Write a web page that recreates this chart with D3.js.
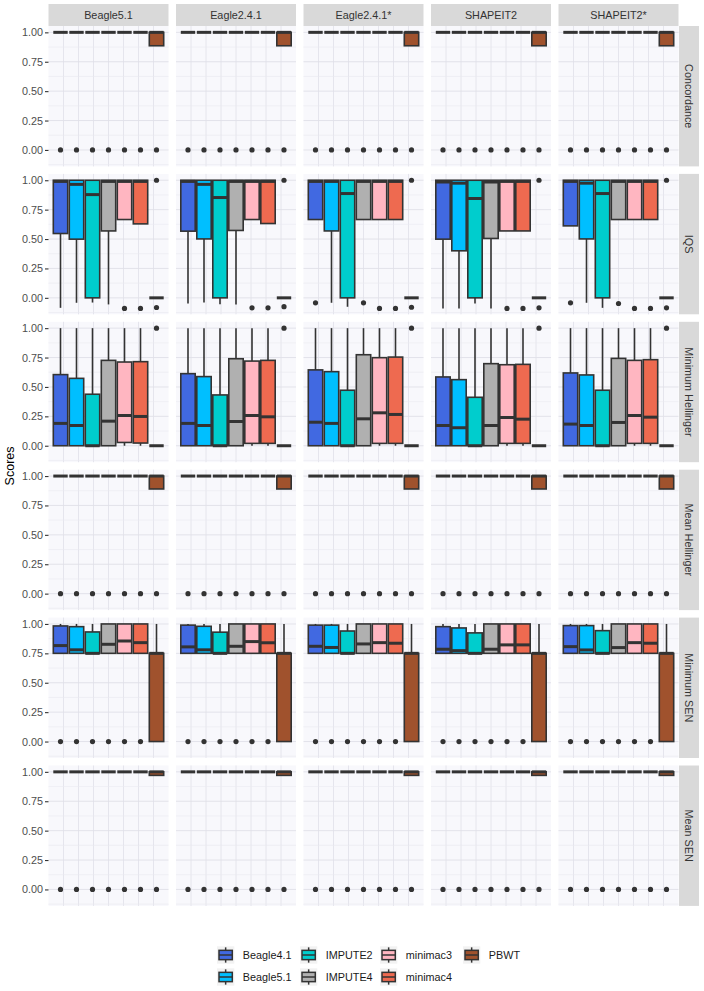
<!DOCTYPE html>
<html>
<head>
<meta charset="utf-8">
<script src="https://cdn.jsdelivr.net/npm/d3@7"></script>
<style>
  body { margin: 0; background: #fff; }
  svg { display: block; font-family: "Liberation Sans", Arial, sans-serif; }
</style>
</head>
<body>
<div id="chart"></div>
<script>
// Facets
const phasing = ['Beagle5.1', 'Eagle2.4.1', 'Eagle2.4.1*', 'SHAPEIT2', 'SHAPEIT2*'];
const metrics = ['Concordance', 'IQS', 'Minimum Hellinger', 'Mean Hellinger', 'Minimum SEN', 'Mean SEN'];
const methods = ['Beagle4.1', 'Beagle5.1', 'IMPUTE2', 'IMPUTE4', 'minimac3', 'minimac4', 'PBWT'];
const methodColors = ['#4169E1', '#00BFFF', '#00CDCD', '#B0B0B0', '#FFB6C1', '#EE6A50', '#A0522D'];
const yTicks = [0, 0.25, 0.5, 0.75, 1];
const yMinorTicks = [-0.125, 0.125, 0.375, 0.625, 0.875];

// Box stats per phasing, per method: [lower whisker, q1, median, q3, upper whisker]
const concordanceBoxes = [
  [[1,1,1,1,1],[1,1,1,1,1],[1,1,1,1,1],[1,1,1,1,1],[1,1,1,1,1],[1,1,1,1,1],[0.886,0.886,1,1,1]],
  [[1,1,1,1,1],[1,1,1,1,1],[1,1,1,1,1],[1,1,1,1,1],[1,1,1,1,1],[1,1,1,1,1],[0.886,0.886,1,1,1]],
  [[1,1,1,1,1],[1,1,1,1,1],[1,1,1,1,1],[1,1,1,1,1],[1,1,1,1,1],[1,1,1,1,1],[0.886,0.886,1,1,1]],
  [[1,1,1,1,1],[1,1,1,1,1],[1,1,1,1,1],[1,1,1,1,1],[1,1,1,1,1],[1,1,1,1,1],[0.886,0.886,1,1,1]],
  [[1,1,1,1,1],[1,1,1,1,1],[1,1,1,1,1],[1,1,1,1,1],[1,1,1,1,1],[1,1,1,1,1],[0.886,0.886,1,1,1]]
];
const iqsBoxes = [
  [[-0.085,0.547,0.99,1,1],[-0.042,0.499,0.965,1,1],[-0.04,0,0.878,1,1],[-0.056,0.569,0.99,1,1],[0.666,0.666,0.99,1,1],[0.629,0.629,0.99,1,1],[0,0,0,0,0]],
  [[-0.048,0.567,0.99,1,1],[-0.04,0.501,0.965,1,1],[-0.054,0,0.853,1,1],[-0.057,0.573,0.99,1,1],[0.666,0.666,0.99,1,1],[0.632,0.632,0.99,1,1],[0,0,0,0,0]],
  [[0.666,0.666,0.99,1,1],[-0.042,0.569,0.99,1,1],[-0.076,0,0.887,1,1],[0.666,0.666,0.99,1,1],[0.666,0.666,0.99,1,1],[0.666,0.666,0.99,1,1],[0,0,0,0,0]],
  [[-0.09,0.499,0.985,1,1],[-0.09,0.40,0.975,1,1],[-0.048,0,0.845,1,1],[-0.09,0.505,0.985,1,1],[0.569,0.569,0.99,1,1],[0.569,0.569,0.99,1,1],[0,0,0,0,0]],
  [[0.612,0.612,0.99,1,1],[-0.042,0.501,0.975,1,1],[-0.085,0,0.887,1,1],[0.666,0.666,0.99,1,1],[0.666,0.666,0.99,1,1],[0.666,0.666,0.99,1,1],[0,0,0,0,0]]
];
const minHellingerBoxes = [
  [[0,0,0.19,0.605,1],[0,0,0.172,0.573,1],[0,0,0,0.438,1],[0,0,0.209,0.726,1],[0,0.028,0.257,0.712,1],[0,0.023,0.249,0.715,1],[0,0,0,0,0]],
  [[0,0,0.19,0.613,1],[0,0,0.172,0.588,1],[0,0,0,0.432,1],[0,0,0.206,0.74,1],[0,0.02,0.257,0.72,1],[0,0.02,0.246,0.726,1],[0,0,0,0,0]],
  [[0,0,0.2,0.645,1],[0,0,0.19,0.63,1],[0,0,0,0.472,1],[0,0,0.229,0.774,1],[0,0.02,0.28,0.749,1],[0,0.02,0.266,0.754,1],[0,0,0,0,0]],
  [[0,0,0.172,0.585,1],[0,0,0.153,0.562,1],[0,0,0,0.412,1],[0,0,0.172,0.698,1],[0,0.02,0.24,0.689,1],[0,0.02,0.226,0.692,1],[0,0,0,0,0]],
  [[0,0,0.184,0.619,1],[0,0,0.172,0.602,1],[0,0,0,0.472,1],[0,0,0.198,0.743,1],[0,0.02,0.257,0.726,1],[0,0.02,0.243,0.732,1],[0,0,0,0,0]]
];
const meanHellingerBoxes = [
  [[1,1,1,1,1],[1,1,1,1,1],[1,1,1,1,1],[1,1,1,1,1],[1,1,1,1,1],[1,1,1,1,1],[0.89,0.89,1,1,1]],
  [[1,1,1,1,1],[1,1,1,1,1],[1,1,1,1,1],[1,1,1,1,1],[1,1,1,1,1],[1,1,1,1,1],[0.89,0.89,1,1,1]],
  [[1,1,1,1,1],[1,1,1,1,1],[1,1,1,1,1],[1,1,1,1,1],[1,1,1,1,1],[1,1,1,1,1],[0.89,0.89,1,1,1]],
  [[1,1,1,1,1],[1,1,1,1,1],[1,1,1,1,1],[1,1,1,1,1],[1,1,1,1,1],[1,1,1,1,1],[0.89,0.89,1,1,1]],
  [[1,1,1,1,1],[1,1,1,1,1],[1,1,1,1,1],[1,1,1,1,1],[1,1,1,1,1],[1,1,1,1,1],[0.89,0.89,1,1,1]]
];
const minSenBoxes = [
  [[0.75,0.75,0.816,0.983,1],[0.75,0.75,0.78,0.977,1],[0.75,0.75,0.75,0.932,1],[0.75,0.75,0.827,1,1],[0.75,0.75,0.855,1,1],[0.75,0.75,0.841,1,1],[0,0,0.75,0.75,1]],
  [[0.75,0.75,0.805,0.99,1],[0.75,0.75,0.78,0.98,1],[0.75,0.75,0.75,0.93,1],[0.75,0.75,0.81,1,1],[0.75,0.75,0.85,1,1],[0.75,0.75,0.84,1,1],[0,0,0.75,0.75,1]],
  [[0.75,0.75,0.81,0.99,1],[0.75,0.75,0.80,0.99,1],[0.75,0.75,0.75,0.94,1],[0.75,0.75,0.83,1,1],[0.75,0.75,0.841,1,1],[0.75,0.75,0.836,1,1],[0,0,0.75,0.75,1]],
  [[0.75,0.75,0.785,0.977,1],[0.75,0.75,0.773,0.966,1],[0.75,0.75,0.75,0.924,1],[0.75,0.75,0.785,1,1],[0.75,0.75,0.822,1,1],[0.75,0.75,0.822,1,1],[0,0,0.75,0.75,1]],
  [[0.75,0.75,0.807,0.986,1],[0.75,0.75,0.779,0.986,1],[0.75,0.75,0.75,0.943,1],[0.75,0.75,0.799,1,1],[0.75,0.75,0.841,1,1],[0.75,0.75,0.836,1,1],[0,0,0.75,0.75,1]]
];
const meanSenBoxes = [
  [[1,1,1,1,1],[1,1,1,1,1],[1,1,1,1,1],[1,1,1,1,1],[1,1,1,1,1],[1,1,1,1,1],[0.97,0.97,1,1,1]],
  [[1,1,1,1,1],[1,1,1,1,1],[1,1,1,1,1],[1,1,1,1,1],[1,1,1,1,1],[1,1,1,1,1],[0.97,0.97,1,1,1]],
  [[1,1,1,1,1],[1,1,1,1,1],[1,1,1,1,1],[1,1,1,1,1],[1,1,1,1,1],[1,1,1,1,1],[0.97,0.97,1,1,1]],
  [[1,1,1,1,1],[1,1,1,1,1],[1,1,1,1,1],[1,1,1,1,1],[1,1,1,1,1],[1,1,1,1,1],[0.97,0.97,1,1,1]],
  [[1,1,1,1,1],[1,1,1,1,1],[1,1,1,1,1],[1,1,1,1,1],[1,1,1,1,1],[1,1,1,1,1],[0.97,0.97,1,1,1]]
];

// Outliers per phasing, per method
const concordanceOutliers = [
  [[0],[0],[0],[0],[0],[0],[0]], [[0],[0],[0],[0],[0],[0],[0]], [[0],[0],[0],[0],[0],[0],[0]],
  [[0],[0],[0],[0],[0],[0],[0]], [[0],[0],[0],[0],[0],[0],[0]]
];
const iqsOutliers = [
  [[],[],[],[],[-0.09],[-0.09],[1,-0.082]],
  [[],[],[],[],[-0.085],[-0.085],[1,-0.075]],
  [[-0.042],[],[],[-0.042],[-0.09],[-0.09],[1,-0.08]],
  [[],[],[],[],[-0.09],[-0.09],[1,-0.085]],
  [[-0.042],[],[],[-0.048],[-0.09],[-0.09],[1,-0.085]]
];
const minHellingerOutliers = [
  [[],[],[],[],[],[],[1]], [[],[],[],[],[],[],[1]], [[],[],[],[],[],[],[1]],
  [[],[],[],[],[],[],[1]], [[],[],[],[],[],[],[1]]
];
const meanHellingerOutliers = concordanceOutliers;
const minSenOutliers = [
  [[0],[0],[0],[0],[0],[0],[]], [[0],[0],[0],[0],[0],[0],[]], [[0],[0],[0],[0],[0],[0],[]],
  [[0],[0],[0],[0],[0],[0],[]], [[0],[0],[0],[0],[0],[0],[]]
];
const meanSenOutliers = concordanceOutliers;

const boxStats = [concordanceBoxes, iqsBoxes, minHellingerBoxes, meanHellingerBoxes, minSenBoxes, meanSenBoxes];
const outlierStats = [concordanceOutliers, iqsOutliers, minHellingerOutliers, meanHellingerOutliers, minSenOutliers, meanSenOutliers];

// Layout
const width = 704, height = 991;
const plotLeft = 48.5, plotTop = 26;
const panelW = 120, panelH = 140.4, gapX = 7.5, gapY = 7.5;
const stripH = 22, stripW = 20;

const svg = d3.select('#chart').append('svg')
  .attr('width', width).attr('height', height);

const y = d3.scaleLinear().domain([-0.14, 1.054]).range([panelH, 0]);
const x = d3.scaleBand().domain(methods).range([4, 116]).paddingInner(0.1).paddingOuter(0.05);
const color = d3.scaleOrdinal().domain(methods).range(methodColors);

const boxStroke = '#333333';

metrics.forEach((metric, r) => {
  const py = plotTop + r * (panelH + gapY);

  phasing.forEach((ph, c) => {
    const px = plotLeft + c * (panelW + gapX);
    const g = svg.append('g').attr('transform', `translate(${px},${py})`);

    // panel background + grid
    g.append('rect').attr('width', panelW).attr('height', panelH).attr('fill', '#F8F8FC');
    g.selectAll('.vgrid').data(d3.range(1, 8)).enter().append('line')
      .attr('x1', d => d * panelW / 8).attr('x2', d => d * panelW / 8)
      .attr('y1', 0).attr('y2', panelH)
      .attr('stroke', '#E0E0E8').attr('stroke-width', 0.8);
    g.selectAll('.hminor').data(yMinorTicks).enter().append('line')
      .attr('x1', 0).attr('x2', panelW)
      .attr('y1', d => y(d)).attr('y2', d => y(d))
      .attr('stroke', '#EAEAF0').attr('stroke-width', 0.6);
    g.selectAll('.hmajor').data(yTicks).enter().append('line')
      .attr('x1', 0).attr('x2', panelW)
      .attr('y1', d => y(d)).attr('y2', d => y(d))
      .attr('stroke', '#E0E0E8').attr('stroke-width', 0.9);

    // boxplots
    const stats = boxStats[r][c];
    const outs = outlierStats[r][c];
    methods.forEach((m, i) => {
      const [lo, q1, med, q3, hi] = stats[i];
      const bx = x(m), bw = x.bandwidth(), cx = bx + bw / 2;
      const bg = g.append('g');
      bg.selectAll('circle').data(outs[i]).enter().append('circle')
        .attr('cx', cx).attr('cy', d => y(d)).attr('r', 2.6).attr('fill', boxStroke);
      bg.append('line').attr('x1', cx).attr('x2', cx).attr('y1', y(hi)).attr('y2', y(q3))
        .attr('stroke', boxStroke).attr('stroke-width', 1.6);
      bg.append('line').attr('x1', cx).attr('x2', cx).attr('y1', y(q1)).attr('y2', y(lo))
        .attr('stroke', boxStroke).attr('stroke-width', 1.6);
      bg.append('rect').attr('x', bx).attr('width', bw)
        .attr('y', y(q3)).attr('height', y(q1) - y(q3))
        .attr('fill', color(m)).attr('stroke', boxStroke).attr('stroke-width', 1.6);
      bg.append('line').attr('x1', bx).attr('x2', bx + bw).attr('y1', y(med)).attr('y2', y(med))
        .attr('stroke', boxStroke).attr('stroke-width', 3);
    });

    // y axis on first column
    if (c === 0) {
      const axis = g.append('g')
        .call(d3.axisLeft(y).tickValues(yTicks).tickFormat(d3.format('.2f')).tickSize(3.5).tickPadding(2));
      axis.select('.domain').remove();
      axis.selectAll('line').attr('stroke', '#333').attr('stroke-width', 1.1);
      axis.selectAll('text').attr('fill', '#4D4D4D').style('font-size', '10.8px');
    }

    // top strips
    if (r === 0) {
      svg.append('rect').attr('x', px).attr('y', plotTop - stripH)
        .attr('width', panelW).attr('height', stripH).attr('fill', '#D9D9D9');
      svg.append('text').attr('x', px + panelW / 2).attr('y', plotTop - stripH / 2)
        .attr('text-anchor', 'middle').attr('dominant-baseline', 'central')
        .attr('fill', '#333').style('font-size', '10.8px').text(ph);
    }
  });

  // right strips
  const sx = plotLeft + 5 * panelW + 4 * gapX + 0.5;
  svg.append('rect').attr('x', sx).attr('y', py).attr('width', stripW).attr('height', panelH).attr('fill', '#D9D9D9');
  svg.append('text')
    .attr('transform', `translate(${sx + stripW / 2},${py + panelH / 2}) rotate(90)`)
    .attr('text-anchor', 'middle').attr('dominant-baseline', 'central')
    .attr('fill', '#333').style('font-size', '10.8px').text(metric);
});

// y title
const plotBottom = plotTop + 6 * panelH + 5 * gapY;
svg.append('text')
  .attr('transform', `translate(10,${(plotTop + plotBottom) / 2}) rotate(-90)`)
  .attr('text-anchor', 'middle').attr('dominant-baseline', 'central')
  .attr('fill', '#000').style('font-size', '12.5px').text('Scores');

// legend: 2 rows, filled by column
const legendCols = [217, 300, 380, 463];
const legendRows = [955, 977];
const keySize = 17.3;
methods.forEach((m, i) => {
  const col = Math.floor(i / 2), row = i % 2;
  const kx = legendCols[col], ky = legendRows[row] - keySize / 2;
  const lg = svg.append('g').attr('transform', `translate(${kx},${ky})`);
  lg.append('rect').attr('width', keySize).attr('height', keySize).attr('fill', '#F2F2F2');
  lg.append('line').attr('x1', keySize / 2).attr('x2', keySize / 2).attr('y1', 1).attr('y2', keySize - 1)
    .attr('stroke', boxStroke).attr('stroke-width', 1.5);
  lg.append('rect').attr('x', 2).attr('y', 4).attr('width', keySize - 4).attr('height', keySize - 8)
    .attr('fill', color(m)).attr('stroke', boxStroke).attr('stroke-width', 1.5);
  lg.append('line').attr('x1', 2).attr('x2', keySize - 2).attr('y1', keySize / 2).attr('y2', keySize / 2)
    .attr('stroke', boxStroke).attr('stroke-width', 1.5);
  svg.append('text').attr('x', kx + keySize + 8.5).attr('y', legendRows[row])
    .attr('dominant-baseline', 'central').attr('fill', '#1A1A1A')
    .style('font-size', '10.8px').text(m);
});
</script>
</body>
</html>
